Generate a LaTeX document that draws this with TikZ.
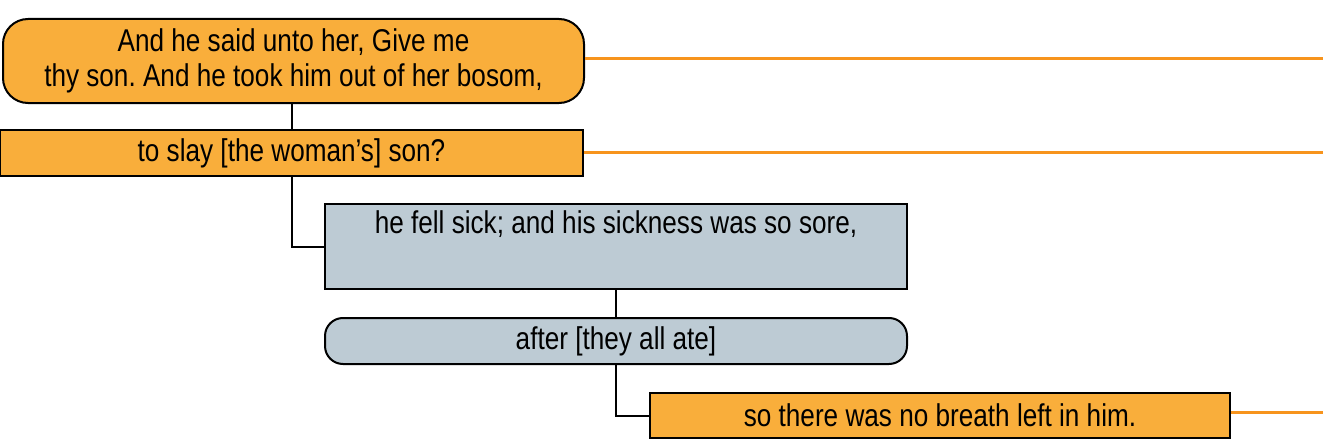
\documentclass[tikz,border=0pt]{standalone}
\usepackage{fontspec}
\setmainfont{Liberation Sans}[FakeStretch=0.83]
\frenchspacing
\definecolor{ofill}{HTML}{F9AE3B}
\definecolor{gfill}{HTML}{BDCBD4}
\definecolor{oline}{HTML}{F7941D}
\begin{document}
\begin{tikzpicture}[x=1pt,y=-1pt,
  box/.style={draw=black, line width=2pt, inner sep=0pt, align=center,
    font=\fontsize{31.5}{35}\selectfont},
  obox/.style={box, fill=ofill},
  gbox/.style={box, fill=gfill},
  conn/.style={draw=black, line width=2pt},
  oconn/.style={draw=oline, line width=3pt},
  txt/.style={inner sep=0pt, font=\fontsize{31.5}{35}\selectfont}]
\useasboundingbox (0,0) rectangle (1323,444);
\node[obox, rounded corners=25pt, minimum width=581pt, minimum height=84pt] (b1) at (293.5,61)
  {And he said unto her, Give me\\thy son. And he took him out of her bosom,};
\node[obox, minimum width=583pt, minimum height=46pt] (b2) at (291.5,153)
  {to slay [the woman’s] son?};
\node[gbox, minimum width=582pt, minimum height=85pt] (b3) at (616,246.5) {};
\node[txt, anchor=base] (t3) at (616,233) {he fell sick; and his sickness was so sore,};
\node[gbox, rounded corners=18pt, minimum width=582pt, minimum height=46pt] (b4) at (616,341)
  {after [they all ate]};
\node[obox, minimum width=580pt, minimum height=45pt] (b5) at (940,415.5)
  {so there was no breath left in him.};
\coordinate (r1) at (1323,59);
\coordinate (r2) at (1323,152);
\coordinate (r5) at (1323,412);
\draw[oconn] (b1.east |- r1) -- (r1);
\draw[oconn] (b2.east |- r2) -- (r2);
\draw[oconn] (b5.east |- r5) -- (r5);
\draw[conn] (b2.north |- b1.south) -- (b2.north);
\draw[conn] (b2.south) |- (b3.west);
\draw[conn] (b3.south) -- (b4.north);
\draw[conn] (b4.south) |- (b5.west);
\end{tikzpicture}
\end{document}
